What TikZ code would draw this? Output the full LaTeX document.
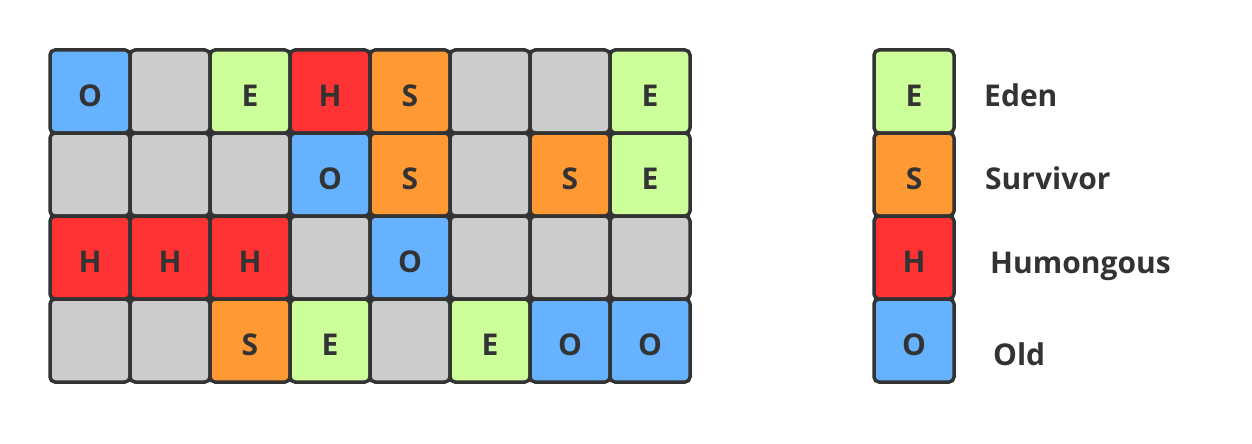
\documentclass[tikz,border=0pt]{standalone}
\usepackage{fontspec}
\setmainfont{Open Sans}
\usepackage{xcolor}
\usetikzlibrary{positioning}
\definecolor{edge}{HTML}{333333}
\definecolor{cO}{HTML}{66B2FF}
\definecolor{cE}{HTML}{CCFF99}
\definecolor{cS}{HTML}{FF9933}
\definecolor{cH}{HTML}{FF3333}
\definecolor{cN}{HTML}{CCCCCC}
\tikzset{
    region/.style={draw=edge, line width=3.5pt, rounded corners=5pt, minimum width=80pt, minimum height=83pt, inner sep=0pt, text=edge, font=\fontsize{30}{32}\selectfont\bfseries, text height=29pt, text depth=0pt},
    kind/.style={text=edge, font=\fontsize{30}{32}\selectfont\bfseries, anchor=base west, inner sep=0pt}
}
\begin{document}
\begin{tikzpicture}[x=1pt, y=-1pt]
    \useasboundingbox (0,0) rectangle (1252,444);
    % heap regions
    \foreach \r/\row in {1/{O,N,E,H,S,N,N,E}, 2/{N,N,N,O,S,N,S,E}, 3/{H,H,H,N,O,N,N,N}, 4/{N,N,S,E,N,E,O,O}}
        \foreach \t [count=\c] in \row
            \node[region, fill=c\t] (cell-\r-\c) at (10+80*\c, 8.5+83*\r) {\if\t N\else\t\fi};
    % legend
    \foreach \t [count=\r] in {E,S,H,O}
        \node[region, fill=c\t] (leg-\t) at (914, 8.5+83*\r) {\t};
    \node[kind] (name-E) at (984, 106) {Eden};
    \node[kind] (name-S) at (985, 189) {Survivor};
    \node[kind] (name-H) at (990, 273) {Humongous};
    \node[kind] (name-O) at (993, 365) {Old};
\end{tikzpicture}
\end{document}
